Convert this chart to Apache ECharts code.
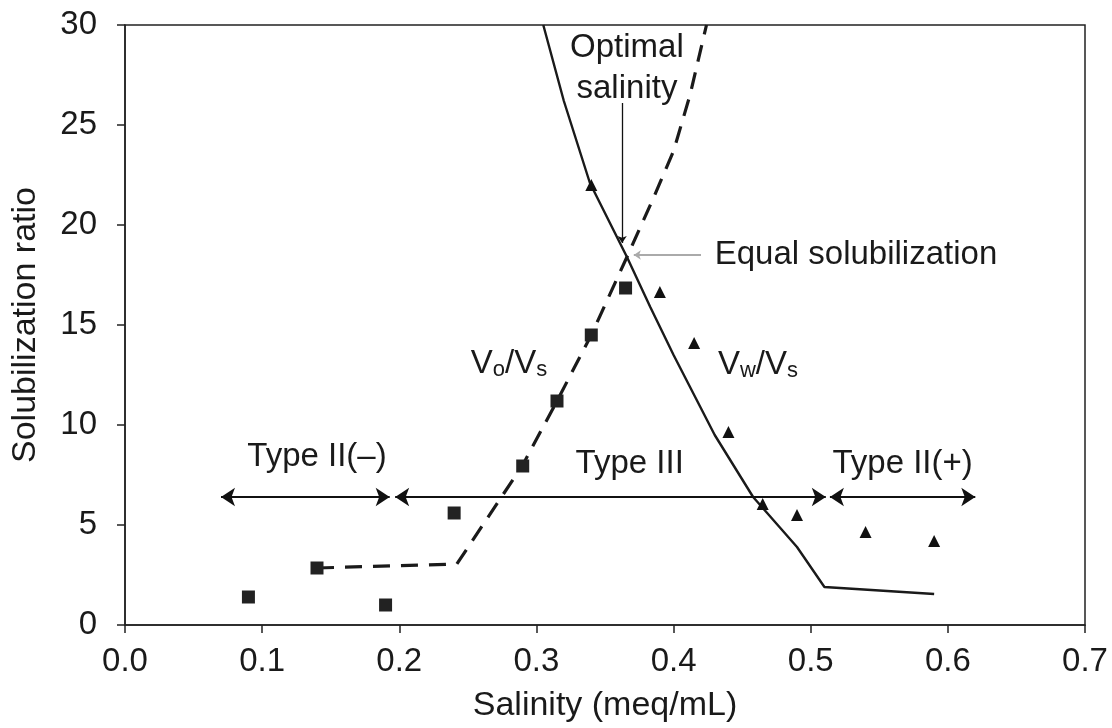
<!DOCTYPE html>
<html>
<head>
<meta charset="utf-8">
<title>Solubilization ratio vs salinity</title>
<script src="https://cdn.jsdelivr.net/npm/echarts/dist/echarts.min.js"></script>
<style>
  html, body { margin: 0; padding: 0; background: #fff; }
  #chart { width: 1112px; height: 728px; }
</style>
</head>
<body>
<div id="chart"></div>
<script>
// measured points, oil solubilization (squares)
const oilSalinity = [0.09, 0.14, 0.19, 0.24, 0.29, 0.315, 0.34, 0.365]
const oilRatio = [1.4, 2.85, 1.0, 5.6, 7.95, 11.2, 14.5, 16.85]

// measured points, water solubilization (triangles)
const waterSalinity = [0.34, 0.39, 0.415, 0.44, 0.465, 0.49, 0.54, 0.59]
const waterRatio = [22, 16.65, 14.1, 9.65, 6.05, 5.5, 4.65, 4.2]

// dashed fit Vo/Vs
const oilFitX = [0.14, 0.242, 0.29, 0.315, 0.34, 0.366, 0.385, 0.4, 0.412, 0.424]
const oilFitY = [2.85, 3.05, 8.0, 11.2, 14.5, 18.4, 21.3, 23.7, 26.5, 30]

// solid fit Vw/Vs
const waterFitX = [0.305, 0.32, 0.339, 0.366, 0.383, 0.4, 0.43, 0.458, 0.49, 0.51, 0.59]
const waterFitY = [30, 26.2, 22.1, 18.4, 15.9, 13.5, 9.5, 6.4, 3.9, 1.9, 1.55]

// phase regions (salinity ranges) and their labels
const regionStart = [0.07, 0.197, 0.514]
const regionEnd = [0.193, 0.511, 0.62]
const regionNames = ['Type II(–)', 'Type III', 'Type II(+)']
const regionLevel = 6.4

const xTicks = ['0.0', '0.1', '0.2', '0.3', '0.4', '0.5', '0.6', '0.7']

const zip = (xs, ys) => xs.map((x, i) => [x, ys[i]])

const FONT = "'Liberation Sans', Arial, Helvetica, sans-serif"
const INK = '#1a1a1a'

const chart = echarts.init(document.getElementById('chart'))

const regionLabelY = [8.4, 8.05, 8.05]
const regionLabelX = [0.14, 0.368, 0.567]

const notes = [
  ...regionNames.map((name, i) => ({ value: [regionLabelX[i], regionLabelY[i]], text: name, align: 'center' })),
  { value: [0.366, 28.85], text: 'Optimal', align: 'center' },
  { value: [0.366, 26.8], text: 'salinity', align: 'center' },
  { value: [0.43, 18.5], text: 'Equal solubilization', align: 'left' },
  { value: [0.28, 13.05], text: '{v|V}{s|o}{v|/V}{s|s}', align: 'center' },
  { value: [0.4615, 13.0], text: '{v|V}{s|w}{v|/V}{s|s}', align: 'center' },
]

const option = {
  animation: false,
  backgroundColor: '#fff',
  textStyle: { fontFamily: FONT },
  grid: {
    left: 125,
    right: 27,
    top: 25,
    bottom: 103,
    show: true,
    borderColor: '#222',
    borderWidth: 1.5,
    backgroundColor: 'transparent',
  },
  xAxis: {
    type: 'value',
    min: 0,
    max: 0.7,
    interval: 0.1,
    name: 'Salinity (meq/mL)',
    nameLocation: 'middle',
    nameGap: 64,
    nameTextStyle: { color: INK, fontSize: 34, fontFamily: FONT },
    axisLine: { show: true, lineStyle: { color: '#222', width: 1.5 } },
    axisTick: { show: true, length: 8, lineStyle: { color: '#222', width: 1.5 } },
    axisLabel: {
      color: INK,
      fontSize: 33,
      margin: 20,
      fontFamily: FONT,
      formatter: (v) => xTicks[Math.round(v * 10)],
    },
    splitLine: { show: false },
  },
  yAxis: {
    type: 'value',
    min: 0,
    max: 30,
    interval: 5,
    name: 'Solubilization ratio',
    nameLocation: 'middle',
    nameGap: 82,
    nameTextStyle: { color: INK, fontSize: 34, fontFamily: FONT },
    axisLine: { show: true, lineStyle: { color: '#222', width: 1.5 } },
    axisTick: { show: true, length: 8, lineStyle: { color: '#222', width: 1.5 } },
    axisLabel: { color: INK, fontSize: 33, margin: 28, fontFamily: FONT },
    splitLine: { show: false },
  },
  series: [
    {
      name: 'Vo/Vs fit',
      type: 'line',
      data: zip(oilFitX, oilFitY),
      showSymbol: false,
      lineStyle: { color: '#1a1a1a', width: 3.2, type: [17, 11] },
      z: 3,
    },
    {
      name: 'Vw/Vs fit',
      type: 'line',
      data: zip(waterFitX, waterFitY),
      showSymbol: false,
      lineStyle: { color: '#1a1a1a', width: 2.4 },
      z: 3,
    },
    {
      name: 'Vo/Vs',
      type: 'scatter',
      symbol: 'rect',
      symbolSize: 13,
      itemStyle: { color: '#222', opacity: 1 },
      data: zip(oilSalinity, oilRatio),
      z: 4,
    },
    {
      name: 'Vw/Vs',
      type: 'scatter',
      symbol: 'triangle',
      symbolSize: 12,
      itemStyle: { color: '#111', opacity: 1 },
      data: zip(waterSalinity, waterRatio),
      z: 4,
    },
    {
      // phase-region arrows + annotation arrows
      name: 'guides',
      type: 'line',
      data: [],
      markLine: {
        silent: true,
        animation: false,
        label: { show: false },
        emphasis: { disabled: true },
        data: [
          ...regionStart.map((s, i) => [
            { coord: [s, regionLevel], symbol: 'arrow', symbolSize: 14, lineStyle: { color: '#111', width: 2, type: 'solid' } },
            { coord: [regionEnd[i], regionLevel], symbol: 'arrow', symbolSize: 14 },
          ]),
          [
            { coord: [0.3625, 26.1], symbol: 'none', lineStyle: { color: '#111', width: 1.3, type: 'solid' } },
            { coord: [0.3625, 19.1], symbol: 'arrow', symbolSize: 7 },
          ],
          [
            { coord: [0.42, 18.5], symbol: 'none', lineStyle: { color: '#aaa', width: 2, type: 'solid' } },
            { coord: [0.371, 18.5], symbol: 'arrow', symbolSize: 7 },
          ],
        ],
      },
    },
    {
      name: 'notes',
      type: 'scatter',
      symbolSize: 0,
      silent: true,
      itemStyle: { opacity: 1 },
      data: notes.map((n) => ({
        value: n.value,
        label: {
          show: true,
          position: 'inside',
          align: n.align,
          verticalAlign: 'middle',
          formatter: n.text,
          color: INK,
          fontSize: 33,
          fontFamily: FONT,
          rich: {
            v: { fontSize: 33, color: INK, fontFamily: FONT, verticalAlign: 'bottom' },
            s: { fontSize: 22, color: INK, fontFamily: FONT, verticalAlign: 'bottom', padding: [10, 0, 0, 0] },
          },
        },
      })),
      z: 5,
    },
  ],
}

chart.setOption(option)
</script>
</body>
</html>
